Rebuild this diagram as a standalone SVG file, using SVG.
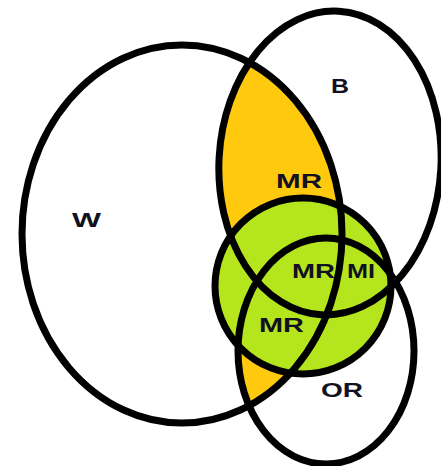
<svg xmlns="http://www.w3.org/2000/svg" width="441" height="466" viewBox="0 0 441 466">
<style>
.set{fill:none;stroke:#000;stroke-width:7}
.lbl{font-family:"Liberation Sans",Arial,sans-serif;font-weight:bold;font-size:20px;fill:#111122}
.orange{fill:#ffc90e}
.green{fill:#b5e61d}
</style>
<defs>
<clipPath id="clipB"><ellipse cx="330" cy="163" rx="111" ry="152" transform="rotate(3.3 330 163)"/></clipPath>
<clipPath id="clipOR"><ellipse cx="326" cy="351" rx="88" ry="113"/></clipPath>
</defs>
<rect width="441" height="466" fill="#fff"/>
<g id="fills">
<ellipse class="orange" cx="182" cy="234" rx="160" ry="189" clip-path="url(#clipB)"/>
<ellipse class="orange" cx="182" cy="234" rx="160" ry="189" clip-path="url(#clipOR)"/>
<circle class="green" cx="303" cy="286" r="88"/>
</g>
<g id="region-labels">
<text class="lbl" x="276" y="188" textLength="46" lengthAdjust="spacingAndGlyphs">MR</text>
<text class="lbl" x="292" y="278" textLength="43" lengthAdjust="spacingAndGlyphs">MR</text>
<text class="lbl" x="347" y="278" textLength="28" lengthAdjust="spacingAndGlyphs">MI</text>
<text class="lbl" x="259" y="332" textLength="45" lengthAdjust="spacingAndGlyphs">MR</text>
</g>
<g id="node-W">
<ellipse class="set" cx="182" cy="234" rx="160" ry="189"/>
<text class="lbl" x="72" y="227" textLength="29" lengthAdjust="spacingAndGlyphs">W</text>
</g>
<g id="node-B">
<ellipse class="set" cx="330" cy="163" rx="111" ry="152" transform="rotate(3.3 330 163)"/>
<text class="lbl" x="331" y="93" textLength="18" lengthAdjust="spacingAndGlyphs">B</text>
</g>
<g id="node-green">
<circle class="set" cx="303" cy="286" r="88"/>
</g>
<g id="node-OR">
<ellipse class="set" cx="326" cy="351" rx="88" ry="113"/>
<text class="lbl" x="321" y="397" textLength="42" lengthAdjust="spacingAndGlyphs">OR</text>
</g>
</svg>
